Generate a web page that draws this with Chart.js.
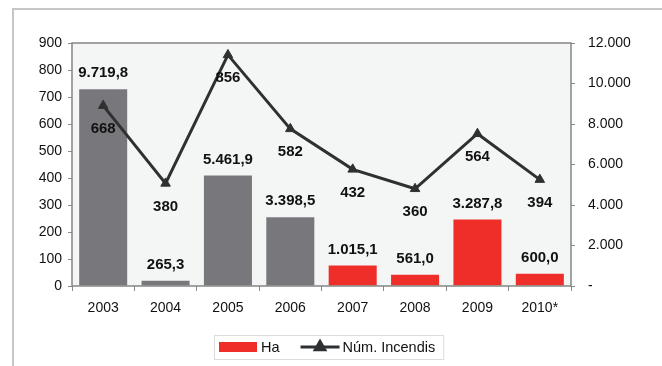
<!DOCTYPE html>
<html lang="ca">
<head>
    <meta charset="UTF-8">
    <title>Incendis i hectàrees cremades</title>
    <style>
        body {
            margin: 0;
            background: #fff;
            font-family: Arial, "Liberation Sans", sans-serif;
        }
        .wrap {
            position: relative;
            width: 662px;
            height: 366px;
        }
        .frame {
            position: absolute;
            left: 12px;
            top: 8px;
            right: 0;
            bottom: 0;
            border-left: 2px solid #c6c6c8;
            border-top: 2px solid #c6c6c8;
        }
        canvas {
            position: absolute;
            left: 0;
            top: 0;
        }
    </style>
    <script src="https://cdn.jsdelivr.net/npm/chart.js"></script>
</head>
<body>
    <div class="wrap">
        <div class="frame"></div>
        <canvas id="chart" width="662" height="366"></canvas>
    </div>

    <script>
        const years = ['2003', '2004', '2005', '2006', '2007', '2008', '2009', '2010*'];
        const hectares = [9719.8, 265.3, 5461.9, 3398.5, 1015.1, 561.0, 3287.8, 600.0];
        const fires = [668, 380, 856, 582, 432, 360, 564, 394];

        const GREY = '#78787c';
        const RED = '#ef2e2a';
        const LINE = '#2f3032';
        const FONT = 'Arial, "Liberation Sans", sans-serif';

        // 9719.8 -> "9.719,8"
        function fmt(v, dec) {
            const parts = v.toFixed(dec).split('.');
            const whole = parts[0].replace(/\B(?=(\d{3})+(?!\d))/g, '.');
            return parts[1] ? whole + ',' + parts[1] : whole;
        }

        // grey for the first four years, red from 2007 on
        const barColor = ctx => ctx.dataIndex < 4 ? GREY : RED;

        const plotFrame = {
            id: 'plotFrame',
            beforeDraw(chart) {
                const { ctx, chartArea: a } = chart;
                ctx.save();
                ctx.fillStyle = '#f4f6f5';
                ctx.fillRect(a.left, a.top, a.right - a.left, a.bottom - a.top);
                ctx.restore();
            },
            afterDatasetsDraw(chart) {
                const { ctx, chartArea: a } = chart;
                ctx.save();
                ctx.strokeStyle = '#858585';
                ctx.lineWidth = 1.5;
                ctx.strokeRect(a.left, a.top, a.right - a.left, a.bottom - a.top);
                ctx.restore();
            }
        };

        const valueLabels = {
            id: 'valueLabels',
            afterDatasetsDraw(chart) {
                const ctx = chart.ctx;
                ctx.save();
                ctx.font = 'bold 15px ' + FONT;
                ctx.fillStyle = '#111';
                ctx.textAlign = 'center';
                ctx.textBaseline = 'middle';
                chart.data.datasets.forEach((ds, i) => {
                    const meta = chart.getDatasetMeta(i);
                    meta.data.forEach((el, j) => {
                        if (ds.type === 'bar') {
                            ctx.fillText(fmt(ds.data[j], 1), el.x, el.y - 16);
                        } else {
                            ctx.fillText(fmt(ds.data[j], 0), el.x, el.y + 23);
                        }
                    });
                });
                ctx.restore();
            }
        };

        const legendBox = {
            id: 'legendBox',
            afterDraw(chart) {
                const ctx = chart.ctx;
                ctx.save();
                ctx.font = '14.5px ' + FONT;
                const barText = chart.data.datasets[1].label;
                const lineText = chart.data.datasets[0].label;
                const w1 = ctx.measureText(barText).width;
                const w2 = ctx.measureText(lineText).width;
                const w = 5 + 38 + 4 + w1 + 21 + 39 + 3 + w2 + 8;
                const left = Math.round((chart.width - w) / 2) - 2;
                const top = 335, h = 24, cy = top + h / 2;

                ctx.fillStyle = '#fff';
                ctx.fillRect(left, top, w, h);
                ctx.strokeStyle = '#dcdcdc';
                ctx.lineWidth = 1;
                ctx.strokeRect(left + 0.5, top + 0.5, w, h);

                let x = left + 5;
                ctx.fillStyle = RED;
                ctx.fillRect(x, cy - 5, 38, 10);
                x += 38 + 4;
                ctx.fillStyle = '#111';
                ctx.textBaseline = 'middle';
                ctx.fillText(barText, x, cy + 1);
                x += w1 + 21;

                ctx.strokeStyle = LINE;
                ctx.lineWidth = 3;
                ctx.beginPath();
                ctx.moveTo(x, cy);
                ctx.lineTo(x + 39, cy);
                ctx.stroke();
                ctx.fillStyle = LINE;
                Chart.helpers.drawPoint(ctx, { pointStyle: 'triangle', radius: 5.5, borderWidth: 1 }, x + 19.5, cy);
                x += 39 + 3;
                ctx.fillStyle = '#111';
                ctx.fillText(lineText, x, cy + 1);
                ctx.restore();
            }
        };

        const tickFont = { family: FONT, size: 14 };

        new Chart(document.getElementById('chart').getContext('2d'), {
            data: {
                labels: years,
                datasets: [
                    {
                        type: 'line',
                        label: 'Núm. Incendis',
                        data: fires,
                        yAxisID: 'yFires',
                        borderColor: LINE,
                        backgroundColor: LINE,
                        borderWidth: 3,
                        pointStyle: 'triangle',
                        pointRadius: 5.5,
                        pointBorderWidth: 1,
                        tension: 0,
                        order: 0
                    },
                    {
                        type: 'bar',
                        label: 'Ha',
                        data: hectares,
                        yAxisID: 'yHa',
                        backgroundColor: barColor,
                        categoryPercentage: 1,
                        barPercentage: 0.77,
                        order: 1
                    }
                ]
            },
            options: {
                responsive: false,
                animation: false,
                layout: { padding: { top: 43, bottom: 50, left: 0, right: 0 } },
                plugins: {
                    legend: { display: false },
                    tooltip: { enabled: false }
                },
                scales: {
                    x: {
                        grid: { offset: true, drawOnChartArea: false, tickLength: 5, color: '#8a8a8a' },
                        border: { display: false },
                        ticks: { color: '#111', font: tickFont, padding: 9, maxRotation: 0 },
                        afterFit: s => { s.height = 30; }
                    },
                    yFires: {
                        position: 'left',
                        min: 0,
                        max: 900,
                        grid: { drawOnChartArea: false, tickLength: 4, color: '#8a8a8a' },
                        border: { display: false },
                        ticks: { stepSize: 100, color: '#111', font: tickFont, padding: 6 },
                        afterFit: s => { s.width = 72; }
                    },
                    yHa: {
                        position: 'right',
                        min: 0,
                        max: 12000,
                        grid: { drawOnChartArea: false, tickLength: 4, color: '#8a8a8a' },
                        border: { display: false },
                        ticks: {
                            stepSize: 2000,
                            color: '#111',
                            font: tickFont,
                            padding: 13,
                            callback: v => v === 0 ? '-' : fmt(v, 0)
                        },
                        afterFit: s => { s.width = 91; }
                    }
                }
            },
            plugins: [plotFrame, valueLabels, legendBox]
        });
    </script>
</body>
</html>
